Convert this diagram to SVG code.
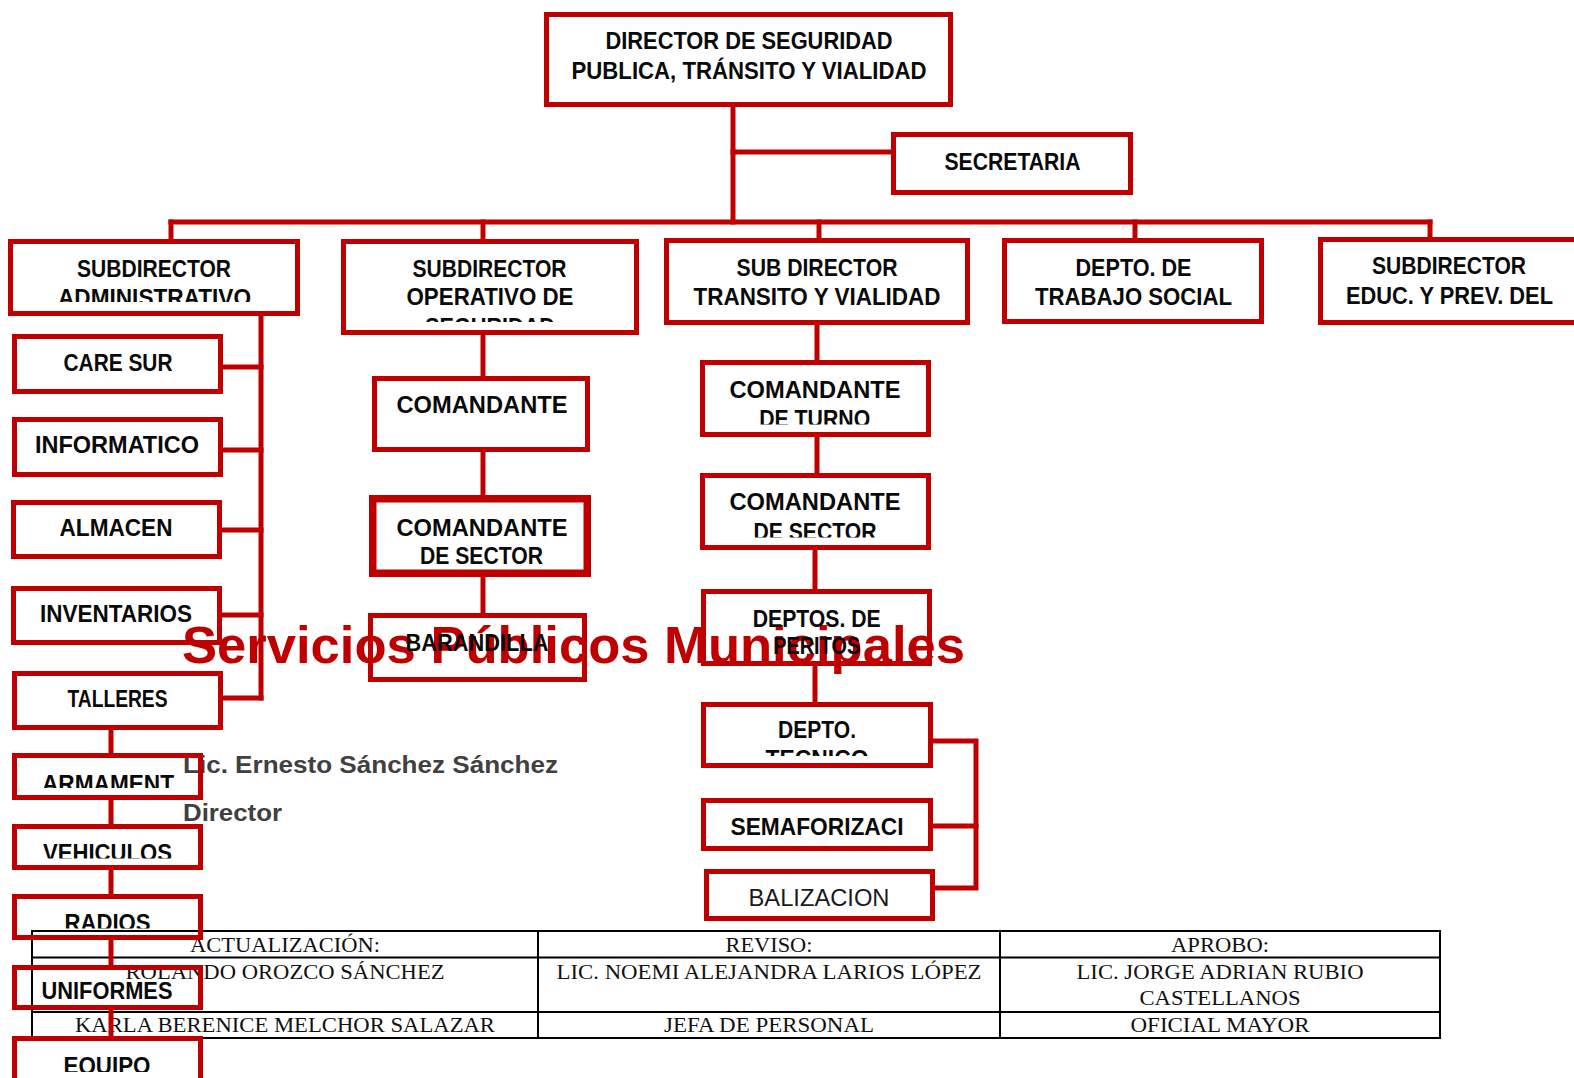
<svg xmlns="http://www.w3.org/2000/svg" width="1574" height="1078" viewBox="0 0 1574 1078">
  <style>
    .box { fill: none; stroke: #C00000; stroke-width: 5; }
    .thick { stroke-width: 7.5; }
    .wire { fill: none; stroke: #C00000; stroke-width: 5; stroke-linecap: square; }
    .lbl { font-family: "Liberation Sans", Arial, sans-serif; font-weight: bold; font-size: 23px; fill: #0a0a0a; text-anchor: middle; }
    .thin { font-weight: normal; fill: #1a1a1a; }
    .grid { fill: none; stroke: #000; stroke-width: 2; }
    .cell { font-family: "Liberation Serif", "Times New Roman", serif; font-size: 21px; fill: #111; text-anchor: middle; }
    .banner { font-family: "Liberation Sans", Arial, sans-serif; font-weight: bold; font-size: 52px; fill: #C00000; }
    .sign { font-family: "Liberation Sans", Arial, sans-serif; font-weight: bold; font-size: 24.5px; fill: #404040; }
  </style>
  <defs>
    <clipPath id="clipAdmin" clipPathUnits="userSpaceOnUse"><rect x="0" y="240" width="310" height="62"/></clipPath>
    <clipPath id="clipOper" clipPathUnits="userSpaceOnUse"><rect x="340" y="240" width="300" height="82"/></clipPath>
    <clipPath id="clipTurno" clipPathUnits="userSpaceOnUse"><rect x="700" y="360" width="232" height="64.5"/></clipPath>
    <clipPath id="clipSector2" clipPathUnits="userSpaceOnUse"><rect x="700" y="473" width="232" height="64.5"/></clipPath>
    <clipPath id="clipTecnico" clipPathUnits="userSpaceOnUse"><rect x="700" y="702" width="234" height="54"/></clipPath>
    <clipPath id="clipArm" clipPathUnits="userSpaceOnUse"><rect x="10" y="753" width="195" height="35"/></clipPath>
    <clipPath id="clipVeh" clipPathUnits="userSpaceOnUse"><rect x="10" y="824" width="195" height="34.5"/></clipPath>
    <clipPath id="clipRad" clipPathUnits="userSpaceOnUse"><rect x="10" y="894" width="195" height="34.5"/></clipPath>
    <clipPath id="clipEq" clipPathUnits="userSpaceOnUse"><rect x="10" y="1036" width="195" height="36"/></clipPath>
  </defs>

  <rect x="0" y="0" width="1574" height="1078" fill="#fff"/>

  <!-- approval table -->
  <g id="approval-table">
    <rect class="grid" x="32" y="931" width="1408" height="107"/>
    <line class="grid" x1="32" y1="957.5" x2="1440" y2="957.5"/>
    <line class="grid" x1="32" y1="1012" x2="1440" y2="1012"/>
    <line class="grid" x1="538" y1="931" x2="538" y2="1038"/>
    <line class="grid" x1="1000" y1="931" x2="1000" y2="1038"/>
    <text class="cell" x="285" y="952" textLength="190" lengthAdjust="spacingAndGlyphs">ACTUALIZACIÓN:</text>
    <text class="cell" x="769" y="952" textLength="87" lengthAdjust="spacingAndGlyphs">REVISO:</text>
    <text class="cell" x="1220" y="952" textLength="98" lengthAdjust="spacingAndGlyphs">APROBO:</text>
    <text class="cell" x="285" y="979" textLength="319" lengthAdjust="spacingAndGlyphs">ROLANDO OROZCO SÁNCHEZ</text>
    <text class="cell" x="769" y="979" textLength="425" lengthAdjust="spacingAndGlyphs">LIC. NOEMI ALEJANDRA LARIOS LÓPEZ</text>
    <text class="cell" x="1220" y="979" textLength="287" lengthAdjust="spacingAndGlyphs">LIC. JORGE ADRIAN RUBIO</text>
    <text class="cell" x="1220" y="1005" textLength="161" lengthAdjust="spacingAndGlyphs">CASTELLANOS</text>
    <text class="cell" x="285" y="1032" textLength="420" lengthAdjust="spacingAndGlyphs">KARLA BERENICE MELCHOR SALAZAR</text>
    <text class="cell" x="769" y="1032" textLength="210" lengthAdjust="spacingAndGlyphs">JEFA DE PERSONAL</text>
    <text class="cell" x="1220" y="1032" textLength="179" lengthAdjust="spacingAndGlyphs">OFICIAL MAYOR</text>
  </g>

  <!-- heading and signature lines -->
  <text class="banner" x="182" y="663" textLength="783" lengthAdjust="spacingAndGlyphs">Servicios Públicos Municipales</text>
  <text class="sign" x="183" y="773" textLength="375" lengthAdjust="spacingAndGlyphs">Lic. Ernesto Sánchez Sánchez</text>
  <text class="sign" x="183" y="821" textLength="99" lengthAdjust="spacingAndGlyphs">Director</text>

  <!-- connectors -->
  <g id="connectors">
    <line class="wire" x1="733" y1="107" x2="733" y2="222"/>
    <line class="wire" x1="733" y1="152" x2="891" y2="152"/>
    <line class="wire" x1="171" y1="222" x2="1430" y2="222"/>
    <line class="wire" x1="171" y1="222" x2="171" y2="239"/>
    <line class="wire" x1="483" y1="222" x2="483" y2="239"/>
    <line class="wire" x1="819" y1="222" x2="819" y2="238"/>
    <line class="wire" x1="1135" y1="222" x2="1135" y2="238"/>
    <line class="wire" x1="1430" y1="222" x2="1430" y2="237"/>
    <!-- administrative branch -->
    <line class="wire" x1="261" y1="316" x2="261" y2="698"/>
    <line class="wire" x1="223" y1="367" x2="261" y2="367"/>
    <line class="wire" x1="223" y1="450" x2="261" y2="450"/>
    <line class="wire" x1="222" y1="530" x2="261" y2="530"/>
    <line class="wire" x1="222" y1="615" x2="261" y2="615"/>
    <line class="wire" x1="223" y1="698" x2="261" y2="698"/>
    <line class="wire" x1="111" y1="730" x2="111" y2="753"/>
    <line class="wire" x1="111" y1="800" x2="111" y2="824"/>
    <line class="wire" x1="111" y1="870" x2="111" y2="894"/>
    <line class="wire" x1="111" y1="940" x2="111" y2="965"/>
    <line class="wire" x1="111" y1="1010" x2="111" y2="1036"/>
    <!-- operative branch -->
    <line class="wire" x1="483" y1="335" x2="483" y2="376"/>
    <line class="wire" x1="483" y1="452" x2="483" y2="495"/>
    <line class="wire" x1="483" y1="577" x2="483" y2="613"/>
    <!-- transit branch -->
    <line class="wire" x1="817" y1="325" x2="817" y2="360"/>
    <line class="wire" x1="817" y1="437" x2="817" y2="473"/>
    <line class="wire" x1="815" y1="550" x2="815" y2="589"/>
    <line class="wire" x1="815" y1="666" x2="815" y2="702"/>
    <polyline class="wire" points="934,741 976,741 976,888 936,888"/>
    <line class="wire" x1="934" y1="826" x2="976" y2="826"/>
  </g>

  <!-- top level -->
  <g id="director">
    <rect class="box" x="546.5" y="14.5" width="404" height="90"/>
    <text class="lbl" x="749" y="48.5" textLength="287" lengthAdjust="spacingAndGlyphs">DIRECTOR DE SEGURIDAD</text>
    <text class="lbl" x="749" y="78.6" textLength="355" lengthAdjust="spacingAndGlyphs">PUBLICA, TRÁNSITO Y VIALIDAD</text>
  </g>
  <g id="secretaria">
    <rect class="box" x="893.5" y="134.5" width="237" height="58"/>
    <text class="lbl" x="1012.5" y="170" textLength="136" lengthAdjust="spacingAndGlyphs">SECRETARIA</text>
  </g>

  <!-- second level -->
  <g id="sub-administrativo">
    <rect class="box" x="10.5" y="241.5" width="287" height="72"/>
    <g clip-path="url(#clipAdmin)">
      <text class="lbl" x="154" y="277.3" textLength="154" lengthAdjust="spacingAndGlyphs">SUBDIRECTOR</text>
      <text class="lbl" x="154.5" y="306" textLength="193" lengthAdjust="spacingAndGlyphs">ADMINISTRATIVO</text>
    </g>
  </g>
  <g id="sub-operativo">
    <rect class="box" x="343.5" y="241.5" width="293" height="91"/>
    <g clip-path="url(#clipOper)">
      <text class="lbl" x="489.5" y="277.3" textLength="154" lengthAdjust="spacingAndGlyphs">SUBDIRECTOR</text>
      <text class="lbl" x="490" y="305.4" textLength="167" lengthAdjust="spacingAndGlyphs">OPERATIVO DE</text>
      <text class="lbl" x="490" y="335" textLength="130" lengthAdjust="spacingAndGlyphs">SEGURIDAD</text>
    </g>
  </g>
  <g id="sub-transito">
    <rect class="box" x="666.5" y="240.5" width="301" height="82"/>
    <text class="lbl" x="817" y="276.3" textLength="161" lengthAdjust="spacingAndGlyphs">SUB DIRECTOR</text>
    <text class="lbl" x="817" y="305.4" textLength="247" lengthAdjust="spacingAndGlyphs">TRANSITO Y VIALIDAD</text>
  </g>
  <g id="trabajo-social">
    <rect class="box" x="1004.5" y="240.5" width="257" height="81"/>
    <text class="lbl" x="1133.5" y="276.3" textLength="116" lengthAdjust="spacingAndGlyphs">DEPTO. DE</text>
    <text class="lbl" x="1133.5" y="305.4" textLength="197" lengthAdjust="spacingAndGlyphs">TRABAJO SOCIAL</text>
  </g>
  <g id="sub-educacion">
    <rect class="box" x="1320.5" y="239.5" width="262" height="83"/>
    <text class="lbl" x="1449" y="274.3" textLength="154" lengthAdjust="spacingAndGlyphs">SUBDIRECTOR</text>
    <text class="lbl" x="1449.5" y="304.4" textLength="207" lengthAdjust="spacingAndGlyphs">EDUC. Y PREV. DEL</text>
  </g>

  <!-- administrative units -->
  <g id="care-sur">
    <rect class="box" x="14.5" y="336.5" width="206" height="55"/>
    <text class="lbl" x="118" y="370.7" textLength="109" lengthAdjust="spacingAndGlyphs">CARE SUR</text>
  </g>
  <g id="informatico">
    <rect class="box" x="14.5" y="419.5" width="206" height="55"/>
    <text class="lbl" x="117" y="453" textLength="164" lengthAdjust="spacingAndGlyphs">INFORMATICO</text>
  </g>
  <g id="almacen">
    <rect class="box" x="13.5" y="502.5" width="206" height="54"/>
    <text class="lbl" x="116" y="536.3" textLength="113" lengthAdjust="spacingAndGlyphs">ALMACEN</text>
  </g>
  <g id="inventarios">
    <rect class="box" x="13.5" y="588.5" width="206" height="54"/>
    <text class="lbl" x="116" y="621.6" textLength="152" lengthAdjust="spacingAndGlyphs">INVENTARIOS</text>
  </g>
  <g id="talleres">
    <rect class="box" x="14.5" y="673.5" width="206" height="54"/>
    <text class="lbl" x="117.5" y="707" textLength="100" lengthAdjust="spacingAndGlyphs">TALLERES</text>
  </g>
  <g id="armamento">
    <rect class="box" x="14.5" y="755.5" width="186" height="42"/>
    <g clip-path="url(#clipArm)">
      <text class="lbl" x="108" y="792" textLength="132" lengthAdjust="spacingAndGlyphs">ARMAMENT</text>
    </g>
  </g>
  <g id="vehiculos">
    <rect class="box" x="14.5" y="826.5" width="186" height="41"/>
    <g clip-path="url(#clipVeh)">
      <text class="lbl" x="107.5" y="861" textLength="129" lengthAdjust="spacingAndGlyphs">VEHICULOS</text>
    </g>
  </g>
  <g id="radios">
    <rect class="box" x="14.5" y="896.5" width="186" height="41"/>
    <g clip-path="url(#clipRad)">
      <text class="lbl" x="107.5" y="931" textLength="86" lengthAdjust="spacingAndGlyphs">RADIOS</text>
    </g>
  </g>
  <g id="uniformes">
    <rect class="box" x="14.5" y="967.5" width="186" height="40"/>
    <text class="lbl" x="107" y="999" textLength="131" lengthAdjust="spacingAndGlyphs">UNIFORMES</text>
  </g>
  <g id="equipo">
    <rect class="box" x="14.5" y="1038.5" width="186" height="50"/>
    <g clip-path="url(#clipEq)">
      <text class="lbl" x="107" y="1074" textLength="87" lengthAdjust="spacingAndGlyphs">EQUIPO</text>
    </g>
  </g>

  <!-- operative units -->
  <g id="comandante">
    <rect class="box" x="374.5" y="378.5" width="213" height="71"/>
    <text class="lbl" x="482" y="412.8" textLength="171" lengthAdjust="spacingAndGlyphs">COMANDANTE</text>
  </g>
  <g id="comandante-sector-operativo">
    <rect class="box thick" x="372.75" y="498.75" width="214.5" height="74.5"/>
    <text class="lbl" x="482" y="536.3" textLength="171" lengthAdjust="spacingAndGlyphs">COMANDANTE</text>
    <text class="lbl" x="481.5" y="564.3" textLength="123" lengthAdjust="spacingAndGlyphs">DE SECTOR</text>
  </g>
  <g id="barandilla">
    <rect class="box" x="370.5" y="615.5" width="214" height="64"/>
    <text class="lbl" x="477" y="651" textLength="143" lengthAdjust="spacingAndGlyphs">BARANDILLA</text>
  </g>

  <!-- transit units -->
  <g id="comandante-turno">
    <rect class="box" x="702.5" y="362.5" width="226" height="72"/>
    <g clip-path="url(#clipTurno)">
      <text class="lbl" x="815" y="398" textLength="171" lengthAdjust="spacingAndGlyphs">COMANDANTE</text>
      <text class="lbl" x="814.7" y="427" textLength="111" lengthAdjust="spacingAndGlyphs">DE TURNO</text>
    </g>
  </g>
  <g id="comandante-sector-transito">
    <rect class="box" x="702.5" y="475.5" width="226" height="72"/>
    <g clip-path="url(#clipSector2)">
      <text class="lbl" x="815" y="510.3" textLength="171" lengthAdjust="spacingAndGlyphs">COMANDANTE</text>
      <text class="lbl" x="815" y="539.7" textLength="123" lengthAdjust="spacingAndGlyphs">DE SECTOR</text>
    </g>
  </g>
  <g id="peritos">
    <rect class="box" x="703.5" y="591.5" width="226" height="72"/>
    <text class="lbl" x="816.7" y="626.7" textLength="128" lengthAdjust="spacingAndGlyphs">DEPTOS. DE</text>
    <text class="lbl" x="816.7" y="654" textLength="87" lengthAdjust="spacingAndGlyphs">PERITOS</text>
  </g>
  <g id="depto-tecnico">
    <rect class="box" x="703.5" y="704.5" width="227" height="61"/>
    <g clip-path="url(#clipTecnico)">
      <text class="lbl" x="817" y="738.3" textLength="78" lengthAdjust="spacingAndGlyphs">DEPTO.</text>
      <text class="lbl" x="817" y="767" textLength="103" lengthAdjust="spacingAndGlyphs">TECNICO</text>
    </g>
  </g>
  <g id="semaforizacion">
    <rect class="box" x="703.5" y="800.5" width="227" height="48"/>
    <text class="lbl" x="817" y="835" textLength="173" lengthAdjust="spacingAndGlyphs">SEMAFORIZACI</text>
  </g>
  <g id="balizacion">
    <rect class="box" x="706.5" y="871.5" width="226" height="47"/>
    <text class="lbl thin" x="819" y="905.7" textLength="141" lengthAdjust="spacingAndGlyphs">BALIZACION</text>
  </g>
</svg>
